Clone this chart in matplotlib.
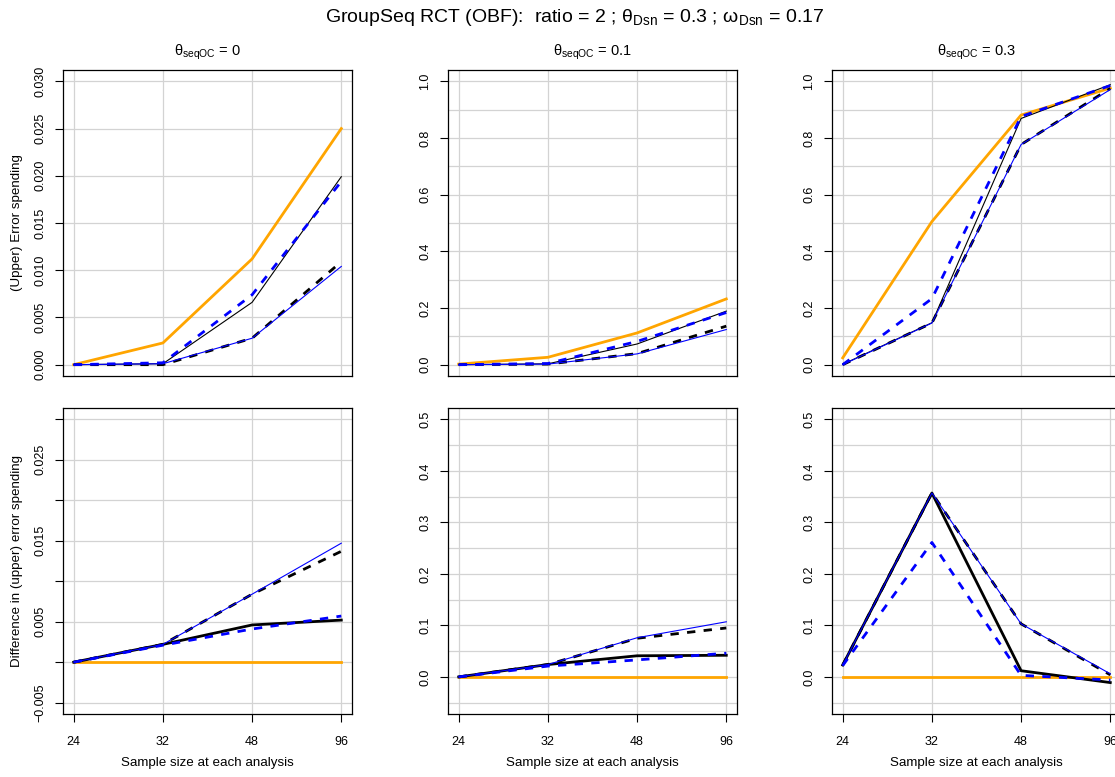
import numpy as np
import matplotlib
matplotlib.use("Agg")
import matplotlib.pyplot as plt

plt.rcParams['font.family'] = ['Liberation Sans', 'DejaVu Sans']
plt.rcParams['mathtext.fontset'] = 'custom'
plt.rcParams['mathtext.rm'] = 'Liberation Sans'
plt.rcParams['mathtext.it'] = 'Liberation Sans:italic'
plt.rcParams['mathtext.bf'] = 'Liberation Sans:bold'

# ---- data -----------------------------------------------------------------
sample_sizes = ['24', '32', '48', '96']
theta_seqoc = ['0', '0.1', '0.3']

# cumulative (upper) error spending, one list per panel column
spend_orange = [[0.0000, 0.0023, 0.0112, 0.0250],
                [0.002, 0.026, 0.112, 0.232],
                [0.024, 0.505, 0.881, 0.976]]
spend_black_solid = [[0.0000, 0.0001, 0.0066, 0.0199],
                     [0.000, 0.003, 0.073, 0.189],
                     [0.001, 0.148, 0.869, 0.988]]
spend_black_dashed = [[0.0000, 0.0000, 0.0028, 0.0109],
                      [0.000, 0.002, 0.039, 0.136],
                      [0.000, 0.147, 0.777, 0.975]]
spend_blue_solid = [[0.0000, 0.0001, 0.0028, 0.0104],
                    [0.000, 0.002, 0.038, 0.124],
                    [0.000, 0.147, 0.777, 0.971]]
spend_blue_dashed = [[0.0000, 0.0002, 0.0074, 0.0194],
                     [0.000, 0.004, 0.082, 0.184],
                     [0.000, 0.233, 0.876, 0.985]]

# difference in (upper) error spending
diff_orange = [[0.0, 0.0, 0.0, 0.0],
               [0.0, 0.0, 0.0, 0.0],
               [0.0, 0.0, 0.0, 0.0]]
diff_black_solid = [[0.0, 0.0022, 0.0046, 0.0052],
                    [0.0, 0.024, 0.041, 0.042],
                    [0.023, 0.357, 0.012, -0.011]]
diff_black_dashed = [[0.0, 0.0022, 0.0084, 0.0137],
                     [0.0, 0.024, 0.075, 0.095],
                     [0.023, 0.357, 0.103, 0.004]]
diff_blue_solid = [[0.0, 0.0022, 0.0084, 0.0147],
                   [0.0, 0.024, 0.076, 0.107],
                   [0.023, 0.357, 0.103, 0.006]]
diff_blue_dashed = [[0.0, 0.0021, 0.0041, 0.0057],
                    [0.0, 0.021, 0.033, 0.046],
                    [0.022, 0.261, 0.003, -0.006]]

# ---- layout ---------------------------------------------------------------
W, H = 1115, 777
fig = plt.figure(figsize=(W / 100, H / 100), dpi=100)

col_left = [63, 448, 832]
row_top = [70, 408]
pw, ph = 289, 306

ORANGE = '#FFA500'
BLUE = '#0000FF'
GRID = '#D3D3D3'
THICK = 2.0
THIN = 0.8
DASH = (0, (3.0, 3.0))
TICK_FS = 9
LABEL_FS = 9.6


def add_panel(col, row):
    left, top = col_left[col], row_top[row]
    return fig.add_axes([left / W, 1 - (top + ph) / H, pw / W, ph / H])


def r_lim(lo, hi):
    pad = 0.04 * (hi - lo)
    return lo - pad, hi + pad


x = np.arange(1, len(sample_sizes) + 1)

for row in range(2):
    for col in range(3):
        ax = add_panel(col, row)
        if row == 0:
            series = [(spend_orange, ORANGE, '-', THICK),
                      (spend_black_solid, 'black', '-', THIN),
                      (spend_black_dashed, 'black', DASH, THICK),
                      (spend_blue_solid, BLUE, '-', THIN),
                      (spend_blue_dashed, BLUE, DASH, THICK)]
        else:
            series = [(diff_orange, ORANGE, '-', THICK),
                      (diff_black_solid, 'black', '-', THICK),
                      (diff_black_dashed, 'black', DASH, THICK),
                      (diff_blue_solid, BLUE, '-', THIN),
                      (diff_blue_dashed, BLUE, DASH, THICK)]

        # y scale, ticks and grid
        if row == 0 and col == 0:
            lo, hi = 0.0, 0.03
            ticks = np.arange(0, 0.0301, 0.005)
            labels = ['%.3f' % t for t in ticks]
            grid_y = ticks
        elif row == 0:
            lo, hi = 0.0, 1.0
            ticks = np.arange(0, 1.01, 0.2)
            labels = ['%.1f' % t for t in ticks]
            grid_y = np.arange(0, 1.01, 0.1)
        elif col == 0:
            lo, hi = -0.005, 0.03
            ticks = np.arange(-0.005, 0.0301, 0.005)
            labels = []
            for i, t in enumerate(ticks):
                labels.append(('%.3f' % t).replace('-', '\u2212') if i % 2 == 0 else '')
            grid_y = ticks
        else:
            lo, hi = -0.05, 0.5
            ticks = np.arange(0, 0.501, 0.1)
            labels = ['%.1f' % t for t in ticks]
            grid_y = np.arange(-0.05, 0.501, 0.05)

        for gy in grid_y:
            ax.axhline(gy, color=GRID, lw=0.9, zorder=0)
        for gx in x:
            ax.axvline(gx, color=GRID, lw=0.9, zorder=0)

        for data, color, ls, lw in series:
            ax.plot(x, data[col], color=color, linestyle=ls, lw=lw, zorder=2)

        ax.set_xlim(*r_lim(1, 4))
        ax.set_ylim(*r_lim(lo, hi))
        ax.set_yticks(ticks)
        ax.set_yticklabels(labels, rotation=90, va='center', ha='right',
                           fontsize=TICK_FS)
        ax.tick_params(axis='y', length=5.5, width=0.8, pad=6.5, direction='out')

        cx = (col_left[col] + pw / 2) / W
        if row == 1:
            ax.set_xticks(x)
            ax.set_xticklabels(sample_sizes, fontsize=TICK_FS)
            ax.tick_params(axis='x', length=5.5, width=0.8, pad=10,
                           direction='out')
            fig.text(cx, 1 - 763 / H, 'Sample size at each analysis',
                     ha='center', va='center', fontsize=LABEL_FS)
        else:
            ax.set_xticks([])
            fig.text(cx, 1 - 52 / H,
                     '\u03b8$_{\\mathrm{seqOC}}$ = ' + theta_seqoc[col],
                     ha='center', va='center', fontsize=10.5)

        for sp in ax.spines.values():
            sp.set_linewidth(0.9)
            sp.set_color('black')

fig.text(17 / W, 1 - 223 / H, '(Upper) Error spending', rotation=90,
         ha='center', va='center', fontsize=LABEL_FS)
fig.text(17 / W, 1 - 561 / H, 'Difference in (upper) error spending',
         rotation=90, ha='center', va='center', fontsize=LABEL_FS)

fig.text(575 / W, 1 - 18 / H,
         'GroupSeq RCT (OBF):  ratio = 2 ; \u03b8$_{\\mathrm{Dsn}}$ = 0.3 ; '
         '\u03c9$_{\\mathrm{Dsn}}$ = 0.17',
         ha='center', va='center', fontsize=14)

fig.savefig('out.png', dpi=100)
